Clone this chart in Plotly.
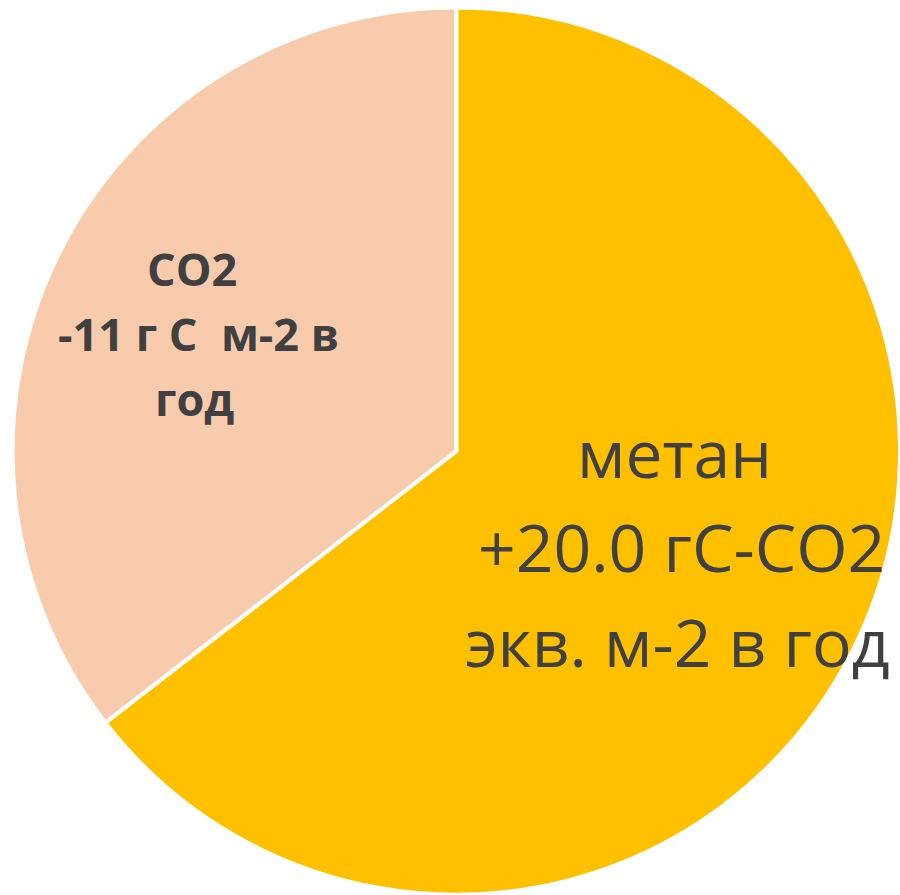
import plotly.graph_objects as go

# Annual carbon balance components (g C m-2 per year, absolute values for the slices)
labels = ["метан", "CO2"]
values = [20.0, 11]
colors = ["#FFC000", "#F8CBAD"]

methane_val = values[0]
co2_val = values[1]

methane_lines = [
    "метан",
    f"+{methane_val:.1f} гC-CO2",
    "экв. м-2 в год",
]
co2_lines = [
    "CO2",
    f"-{co2_val:.0f} г C\u00a0\u00a0м-2 в",
    "год",
]

W, H = 900, 895

fig = go.Figure(
    go.Pie(
        labels=labels,
        values=values,
        sort=False,
        direction="clockwise",
        rotation=0,
        marker=dict(colors=colors, line=dict(color="white", width=4)),
        textinfo="none",
        showlegend=False,
        domain=dict(x=[0.014, 1.0], y=[0.0, 0.992]),
    )
)

text_color = "#404040"


def add_lines(lines, xs, ys, size, bold):
    for line, x, y in zip(lines, xs, ys):
        fig.add_annotation(
            text=f"<b>{line}</b>" if bold else line,
            x=x / W,
            y=1 - y / H,
            xref="paper",
            yref="paper",
            xanchor="center",
            yanchor="middle",
            showarrow=False,
            font=dict(family="Open Sans", size=size, color=text_color),
        )


# Label positions in pixels (vertical centres of each text line)
add_lines(methane_lines, [674, 681, 677], [452, 546, 641], 66, False)
add_lines(co2_lines, [192, 198, 194], [269, 334, 399], 45, True)

fig.update_layout(
    width=W,
    height=H,
    margin=dict(l=0, r=0, t=0, b=0),
    paper_bgcolor="white",
    plot_bgcolor="white",
)

fig.write_html("out.html")
